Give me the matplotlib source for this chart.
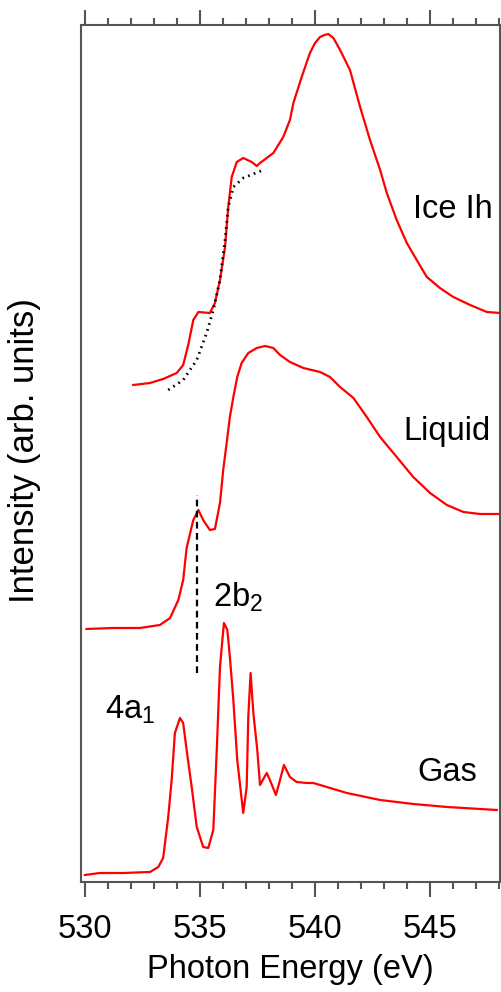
import matplotlib
matplotlib.use("Agg")
import matplotlib.pyplot as plt
from matplotlib.ticker import MultipleLocator

plt.rcParams["font.family"] = ["Liberation Sans", "DejaVu Sans"]
plt.rcParams["mathtext.fontset"] = "custom"
plt.rcParams["mathtext.rm"] = "Liberation Sans"

# Ice Ih spectrum (offset already included)
ice_e = [532.10, 532.83, 533.40, 533.99, 534.27, 534.49, 534.71, 534.93, 535.43, 535.65,
         535.87, 536.09, 536.23, 536.38, 536.60, 536.88, 537.25, 537.47, 537.61, 538.19,
         538.62, 538.91, 539.06, 539.42, 539.78, 540.00, 540.22, 540.41, 540.58, 540.80,
         541.09, 541.52, 541.96, 542.39, 542.83, 543.12, 543.55, 543.99, 544.42, 544.86,
         545.43, 546.01, 546.74, 547.47, 548.04]
ice_i = [4.97, 4.99, 5.03, 5.09, 5.17, 5.37, 5.62, 5.70, 5.69, 5.79,
         6.02, 6.35, 6.75, 7.05, 7.20, 7.24, 7.20, 7.16, 7.19, 7.29,
         7.45, 7.62, 7.79, 8.05, 8.29, 8.39, 8.45, 8.47, 8.48, 8.44,
         8.32, 8.12, 7.75, 7.42, 7.12, 6.89, 6.62, 6.39, 6.22, 6.05,
         5.94, 5.85, 5.77, 5.70, 5.69]

# dotted comparison curve on the ice edge
dot_e = [533.62, 534.27, 534.86, 535.29, 535.58, 535.87, 536.09, 536.23, 536.45, 536.88, 537.75]
dot_i = [4.92, 5.02, 5.22, 5.49, 5.72, 6.02, 6.42, 6.75, 6.95, 7.04, 7.12]

liq_e = [530.07, 531.23, 532.39, 533.26, 533.70, 534.06, 534.27, 534.42, 534.71, 534.93,
         535.14, 535.43, 535.65, 535.87, 536.01, 536.16, 536.30, 536.45, 536.62, 536.81,
         537.10, 537.47, 537.83, 538.19, 538.48, 538.91, 539.49, 540.22, 540.65, 541.09,
         541.67, 542.25, 542.83, 543.55, 544.27, 545.00, 545.73, 546.45, 547.17, 548.01]
liq_i = [2.53, 2.54, 2.54, 2.57, 2.64, 2.82, 3.02, 3.34, 3.62, 3.72,
         3.62, 3.52, 3.53, 3.79, 4.12, 4.39, 4.65, 4.85, 5.05, 5.19,
         5.29, 5.34, 5.36, 5.34, 5.27, 5.20, 5.14, 5.10, 5.05, 4.95,
         4.84, 4.65, 4.45, 4.25, 4.05, 3.89, 3.77, 3.70, 3.68, 3.68]

gas_e = [530.00, 530.65, 531.67, 532.83, 533.19, 533.40, 533.62, 533.77, 533.91, 534.13,
         534.27, 534.42, 534.64, 534.86, 535.14, 535.36, 535.58, 535.73, 535.87, 536.04,
         536.19, 536.30, 536.45, 536.62, 536.88, 537.03, 537.10, 537.20, 537.32, 537.49,
         537.61, 537.90, 538.04, 538.30, 538.48, 538.65, 538.91, 539.20, 539.64, 539.93,
         541.38, 542.83, 544.27, 545.73, 547.90]
gas_i = [0.07, 0.09, 0.09, 0.10, 0.15, 0.24, 0.65, 1.02, 1.49, 1.64,
         1.59, 1.32, 0.95, 0.55, 0.35, 0.34, 0.52, 1.32, 2.15, 2.59,
         2.52, 2.25, 1.82, 1.22, 0.69, 0.95, 1.65, 2.09, 1.69, 1.32,
         0.97, 1.09, 1.02, 0.87, 1.02, 1.17, 1.05, 1.00, 0.99, 0.99,
         0.89, 0.82, 0.78, 0.75, 0.72]

peak_2b2 = 534.86
peak_line_y = [2.09, 3.87]

fig = plt.figure(figsize=(5.02, 9.92), dpi=100)
ax = fig.add_axes([0.1614, 0.1109, 0.8346, 0.8639])

red = "#ff0000"
ax.plot(ice_e, ice_i, color=red, lw=1.6)
ax.plot(dot_e, dot_i, color="black", lw=2.0, linestyle=(0, (0.6, 1.6)))
ax.plot(liq_e, liq_i, color=red, lw=1.6)
ax.plot(gas_e, gas_i, color=red, lw=1.6)
ax.plot([peak_2b2, peak_2b2], peak_line_y, color="black", lw=1.6, linestyle=(0, (3, 2)))

ax.text(546.0, 6.72, "Ice Ih", fontsize=23.5, ha="center", va="center")
ax.text(545.74, 4.50, "Liquid", fontsize=23.5, ha="center", va="center")
ax.text(545.74, 1.09, "Gas", fontsize=23.5, ha="center", va="center")
ax.text(535.57, 2.85, r"2b$_\mathregular{2}$", fontsize=23.5, ha="left", va="center")
ax.text(530.87, 1.72, r"4a$_\mathregular{1}$", fontsize=23.5, ha="left", va="center")

ax.set_xlim(529.83, 548.04)
ax.set_ylim(0, 8.57)
ax.xaxis.set_major_locator(MultipleLocator(5))
ax.xaxis.set_minor_locator(MultipleLocator(1))
ax.set_yticks([])

spine_col = "#555555"
for s in ax.spines.values():
    s.set_color(spine_col)
    s.set_linewidth(1.5)

ax.tick_params(axis="x", which="both", direction="out", top=True, bottom=True,
               colors=spine_col, labelcolor="black", width=1.5, labelsize=23.5, pad=12)
ax.tick_params(axis="x", which="major", length=11)
ax.tick_params(axis="x", which="minor", length=5)

ax.set_xlabel("Photon Energy (eV)", fontsize=23.5, va="center")
ax.xaxis.set_label_coords(0.5, -0.1027)
ax.set_ylabel("Intensity (arb. units)", fontsize=25, va="center")
ax.yaxis.set_label_coords(-0.134, 0.504)

fig.savefig("out.png", dpi=100)
